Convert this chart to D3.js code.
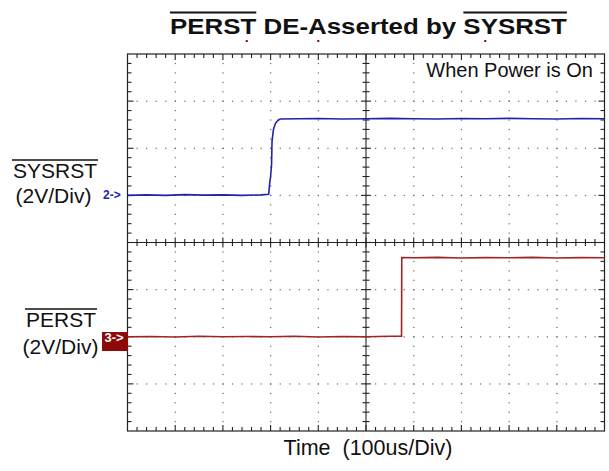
<!DOCTYPE html>
<html>
<head>
<meta charset="utf-8">
<script src="https://cdn.jsdelivr.net/npm/d3@7"></script>
<style>
  body { margin: 0; background: #fff; }
  svg { display: block; font-family: "Liberation Sans", Arial, sans-serif; }
</style>
</head>
<body>
<svg id="chart" width="609" height="471"></svg>
<script>
'use strict';
// scope settings
const usPerDiv = 100;
const voltsPerDiv = 2;
const xDivs = 10, yDivs = 8;

// channel 2 (SYSRST), time in us, volts
const ch2Time = [0, 40, 80, 120, 160, 200, 240, 280, 296, 298, 300, 302, 303, 306, 310, 315, 320,
  360, 400, 450, 500, 550, 600, 650, 700, 750, 800, 850, 900, 950, 1000];
const ch2Volts = [0, 0.02, 0, 0.03, 0.01, 0.02, 0, 0.02, 0.05, 0.5, 0.8, 1.3, 2.3, 2.8, 3.05, 3.18, 3.24,
  3.25, 3.26, 3.24, 3.25, 3.27, 3.25, 3.24, 3.26, 3.25, 3.27, 3.25, 3.24, 3.26, 3.25];
const ch2Offset = 1; // divisions

// channel 3 (PERST)
const ch3Time = [0, 50, 100, 150, 200, 250, 300, 350, 400, 450, 500, 550, 574.5, 575,
  600, 650, 700, 750, 800, 850, 900, 950, 1000];
const ch3Volts = [0, 0.01, -0.01, 0.02, 0, 0.01, 0, 0.02, -0.01, 0.01, 0, 0.02, 0.02, 3.36,
  3.35, 3.37, 3.34, 3.36, 3.35, 3.37, 3.34, 3.36, 3.35];
const ch3Offset = -2;

// small position markers above the screen, in divisions
const topMarks = [2.5, 4.0, 7.5];

const titleText = 'PERST DE-Asserted by SYSRST';
const noteText = 'When Power is On';
const xLabel = 'Time  (100us/Div)';

(() => {
const svg = d3.select('#chart');
const pLeft = 127.5, pRight = 604.5, pTop = 54, pBottom = 431;

const x = d3.scaleLinear().domain([0, xDivs * usPerDiv]).range([pLeft, pRight]);
const y = d3.scaleLinear().domain([-yDivs / 2, yDivs / 2]).range([pBottom, pTop]);
const xd = d => x(d * usPerDiv); // x from division number

// graticule
const grat = svg.append('g').attr('class', 'graticule');
const dotStep = 0.2;
for (let i = 1; i < xDivs; i++) {
  if (i === xDivs / 2) continue;
  for (let j = dotStep; j < yDivs - 0.01; j += dotStep) {
    grat.append('rect').attr('x', xd(i) - 0.5).attr('y', y(j - 4) - 0.5)
      .attr('width', 1.2).attr('height', 1.2).attr('fill', '#666');
  }
}
for (let j = 1; j < yDivs; j++) {
  if (j === yDivs / 2) continue;
  for (let i = dotStep; i < xDivs - 0.01; i += dotStep) {
    grat.append('rect').attr('x', xd(i) - 0.5).attr('y', y(j - 4) - 0.5)
      .attr('width', 1.2).attr('height', 1.2).attr('fill', '#666');
  }
}
// border
grat.append('rect')
  .attr('x', pLeft).attr('y', pTop)
  .attr('width', pRight - pLeft).attr('height', pBottom - pTop)
  .attr('fill', 'none').attr('stroke', '#222').attr('stroke-width', 1.2);
// center cross
grat.append('line').attr('x1', pLeft).attr('x2', pRight)
  .attr('y1', y(0)).attr('y2', y(0));
grat.append('line').attr('x1', xd(5)).attr('x2', xd(5))
  .attr('y1', pTop).attr('y2', pBottom);
// ticks
for (let i = dotStep; i < xDivs - 0.01; i += dotStep) {
  const major = Math.abs(i - Math.round(i)) < 0.01;
  const len = major ? 6 : 4;
  const px = xd(i);
  grat.append('line').attr('x1', px).attr('x2', px).attr('y1', pTop).attr('y2', pTop + len);
  grat.append('line').attr('x1', px).attr('x2', px).attr('y1', pBottom).attr('y2', pBottom - len);
  grat.append('line').attr('x1', px).attr('x2', px).attr('y1', y(0) - (major ? 5 : 3.5)).attr('y2', y(0) + (major ? 5 : 3.5));
}
for (let j = dotStep; j < yDivs - 0.01; j += dotStep) {
  const major = Math.abs(j - Math.round(j)) < 0.01;
  const len = major ? 6 : 4;
  const py = y(j - 4);
  grat.append('line').attr('x1', pLeft).attr('x2', pLeft + len).attr('y1', py).attr('y2', py);
  grat.append('line').attr('x1', pRight).attr('x2', pRight - len).attr('y1', py).attr('y2', py);
  grat.append('line').attr('x1', xd(5) - (major ? 5 : 3.5)).attr('x2', xd(5) + (major ? 5 : 3.5)).attr('y1', py).attr('y2', py);
}
grat.selectAll('line').attr('stroke', '#222').attr('stroke-width', 1.1);

// tiny markers above the top edge
svg.selectAll('rect.mark').data(topMarks).enter().append('rect')
  .attr('class', 'mark')
  .attr('x', d => xd(d) - 1).attr('y', pTop - 14)
  .attr('width', 2).attr('height', 2).attr('fill', '#7a1010');

// note box
svg.append('rect').attr('x', 421).attr('y', 60).attr('width', 178).attr('height', 24).attr('fill', '#fff');
svg.append('text').attr('x', 593).attr('y', 77).attr('text-anchor', 'end')
  .attr('font-size', 20).attr('fill', '#111').text(noteText);

// traces
const line = offset => d3.line()
  .x(d => x(d[0]))
  .y(d => y(offset + d[1] / voltsPerDiv));

svg.append('path')
  .datum(d3.zip(ch2Time, ch2Volts))
  .attr('d', line(ch2Offset))
  .attr('fill', 'none').attr('stroke', '#2323a8').attr('stroke-width', 1.6);
svg.append('path')
  .datum(d3.zip(ch3Time, ch3Volts))
  .attr('d', line(ch3Offset))
  .attr('fill', 'none').attr('stroke', '#a02424').attr('stroke-width', 1.6);

// channel markers
svg.append('text').attr('x', 103).attr('y', y(ch2Offset) + 4)
  .attr('font-size', 12).attr('font-weight', 'bold').attr('fill', '#2323b0').text('2->');
svg.append('rect').attr('x', 102).attr('y', 332).attr('width', 26).attr('height', 19).attr('fill', '#8b0a0a');
svg.append('text').attr('x', 104.5).attr('y', y(ch3Offset) + 5.5)
  .attr('font-size', 13).attr('font-weight', 'bold').attr('fill', '#fff').text('3->');

// left labels with overline
function barLabel(name, cx, base, unitBase, unitCx) {
  const t = svg.append('text').attr('x', cx).attr('y', base).attr('text-anchor', 'middle')
    .attr('font-size', 21).attr('fill', '#111').text(name);
  const w = t.node().getComputedTextLength();
  svg.append('line').attr('x1', cx - w / 2 - 1).attr('x2', cx + w / 2 + 1)
    .attr('y1', base - 18).attr('y2', base - 18).attr('stroke', '#111').attr('stroke-width', 1.6);
  svg.append('text').attr('x', unitCx).attr('y', unitBase).attr('text-anchor', 'middle')
    .attr('font-size', 21).attr('fill', '#111').text('(' + voltsPerDiv + 'V/Div)');
}
barLabel('SYSRST', 55, 178, 203, 53.5);
barLabel('PERST', 61, 327, 354, 60.5);

// title, stretched wide like the scope export
const tg = svg.append('g');
const title = tg.append('text').attr('x', 0).attr('y', 0).attr('text-anchor', 'start')
  .attr('font-size', 22).attr('font-weight', 'bold').attr('fill', '#111').text(titleText);
const tw = title.node().getComputedTextLength();
const sx = 397 / tw;
tg.attr('transform', `translate(170,34) scale(${sx},1)`);
[['PERST', 0], ['SYSRST', titleText.indexOf('SYSRST')]].forEach(([s, i]) => {
  const x0 = i === 0 ? 0 : title.node().getSubStringLength(0, i);
  const w = title.node().getSubStringLength(i, s.length);
  tg.append('line').attr('x1', x0).attr('x2', x0 + w)
    .attr('y1', -21.5).attr('y2', -21.5).attr('stroke', '#111').attr('stroke-width', 2.2);
});

// x label
svg.append('text').attr('x', 368).attr('y', 455).attr('text-anchor', 'middle')
  .attr('font-size', 21.5).attr('fill', '#111').style('white-space', 'pre').text(xLabel);
})();
</script>
</body>
</html>
